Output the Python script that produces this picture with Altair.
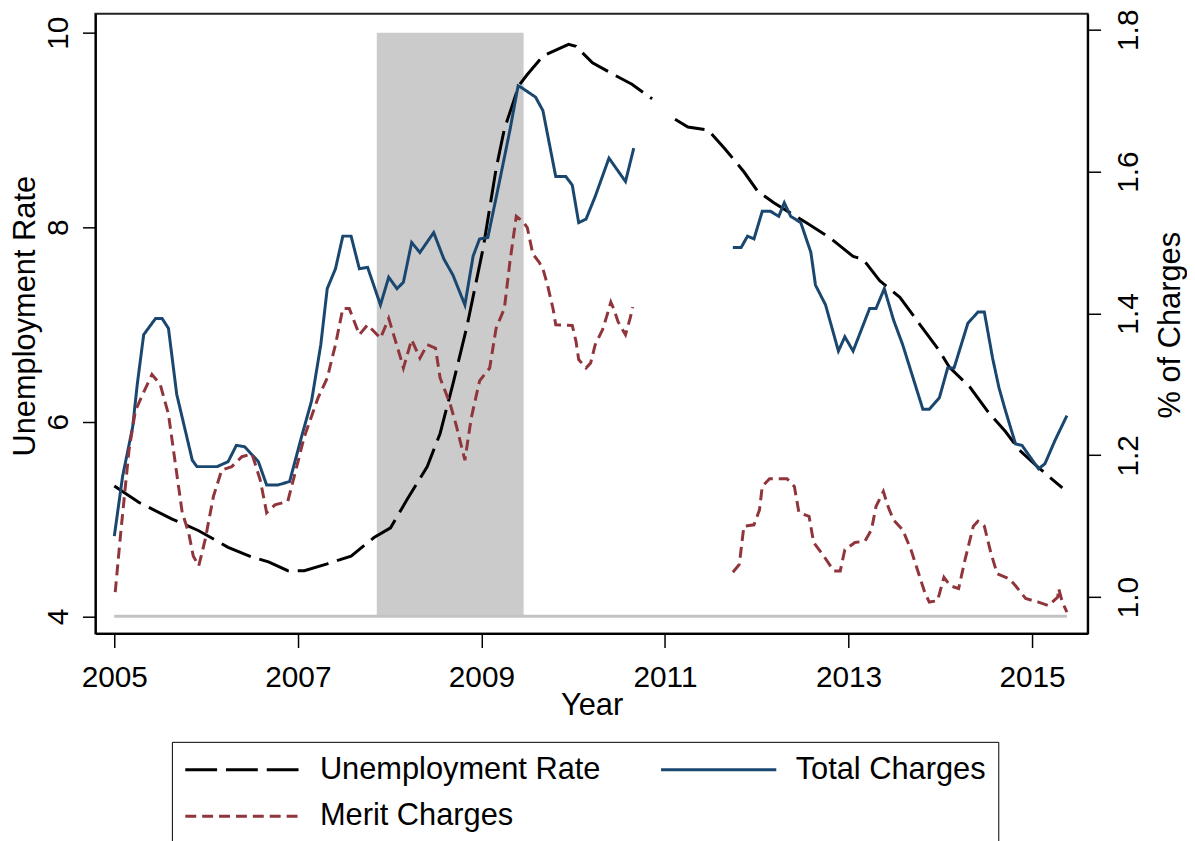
import altair as alt
import pandas as pd

FONT = "Liberation Sans"

# ---------------- data ----------------
ur_year = [2005.00, 2005.27, 2005.63, 2005.92, 2006.24, 2006.50, 2006.68, 2006.89, 2007.07, 2007.32,
           2007.58, 2007.83, 2008.01, 2008.19, 2008.41, 2008.55, 2008.69, 2008.84, 2009.02, 2009.16,
           2009.25, 2009.41, 2009.50, 2009.67, 2009.95, 2010.03, 2010.21, 2010.46, 2010.64, 2010.86,
           2011.11, 2011.25, 2011.47, 2011.65, 2011.86, 2012.01, 2012.19, 2012.55, 2012.80, 2013.05,
           2013.16, 2013.34, 2013.56, 2013.77, 2013.99, 2014.10, 2014.32, 2014.53, 2014.71, 2014.86,
           2015.07, 2015.33]
ur_val = [5.34, 5.17, 5.00, 4.88, 4.71, 4.61, 4.56, 4.47, 4.47, 4.54,
          4.62, 4.81, 4.91, 5.20, 5.54, 5.88, 6.39, 6.97, 7.79, 8.60,
          9.01, 9.46, 9.57, 9.76, 9.88, 9.86, 9.69, 9.56, 9.47, 9.32,
          9.11, 9.03, 9.00, 8.81, 8.57, 8.37, 8.25, 8.04, 7.89, 7.70,
          7.67, 7.45, 7.28, 7.01, 6.73, 6.56, 6.36, 6.09, 5.90, 5.71,
          5.53, 5.32]

tc_year = [2005.00, 2005.09, 2005.20, 2005.25, 2005.32, 2005.45, 2005.52, 2005.59, 2005.68, 2005.85,
           2005.90, 2006.12, 2006.24, 2006.33, 2006.42, 2006.57, 2006.66, 2006.78, 2006.91, 2007.04,
           2007.15, 2007.25, 2007.32, 2007.41, 2007.49, 2007.58, 2007.67, 2007.76, 2007.90, 2007.99,
           2008.08, 2008.15, 2008.24, 2008.33, 2008.48, 2008.59, 2008.69, 2008.82, 2008.91, 2008.98,
           2009.07, 2009.20, 2009.31, 2009.40, 2009.43, 2009.59, 2009.67, 2009.81, 2009.92, 2009.99,
           2010.06, 2010.14, 2010.24, 2010.39, 2010.57, 2010.66,
           2011.74, 2011.83, 2011.90, 2011.97, 2012.06, 2012.15, 2012.24, 2012.30, 2012.37, 2012.48,
           2012.59, 2012.64, 2012.75, 2012.89, 2012.96, 2013.05, 2013.23, 2013.30, 2013.39, 2013.49,
           2013.59, 2013.81, 2013.88, 2013.99, 2014.08, 2014.15, 2014.30, 2014.41, 2014.48, 2014.57,
           2014.64, 2014.71, 2014.82, 2014.89, 2015.07, 2015.14, 2015.25, 2015.38]
tc_val = [1.086, 1.170, 1.240, 1.300, 1.370, 1.393, 1.393, 1.379, 1.286, 1.193,
          1.184, 1.184, 1.191, 1.214, 1.212, 1.191, 1.158, 1.158, 1.163, 1.226,
          1.277, 1.356, 1.435, 1.463, 1.509, 1.509, 1.463, 1.465, 1.412, 1.451,
          1.435, 1.444, 1.500, 1.486, 1.514, 1.477, 1.454, 1.412, 1.481, 1.505,
          1.507, 1.588, 1.658, 1.721, 1.719, 1.705, 1.686, 1.593, 1.593, 1.581,
          1.528, 1.533, 1.565, 1.619, 1.586, 1.633,
          1.493, 1.493, 1.509, 1.505, 1.544, 1.544, 1.537, 1.556, 1.537, 1.528,
          1.486, 1.440, 1.412, 1.347, 1.367, 1.347, 1.407, 1.407, 1.435, 1.391,
          1.356, 1.265, 1.265, 1.281, 1.323, 1.323, 1.386, 1.402, 1.402, 1.337,
          1.295, 1.263, 1.216, 1.214, 1.181, 1.188, 1.221, 1.256]

mc_year = [2005.01, 2005.07, 2005.16, 2005.23, 2005.31, 2005.41, 2005.50, 2005.59, 2005.66, 2005.74,
           2005.81, 2005.86, 2005.92, 2005.99, 2006.08, 2006.17, 2006.28, 2006.39, 2006.50, 2006.59,
           2006.66, 2006.75, 2006.89, 2006.96, 2007.07, 2007.22, 2007.32, 2007.41, 2007.49, 2007.56,
           2007.67, 2007.76, 2007.90, 2007.99, 2008.12, 2008.15, 2008.24, 2008.33, 2008.41, 2008.50,
           2008.55, 2008.66, 2008.73, 2008.82, 2008.89, 2008.98, 2009.09, 2009.16, 2009.25, 2009.31,
           2009.38, 2009.45, 2009.50, 2009.56, 2009.63, 2009.67, 2009.72, 2009.78, 2009.81, 2009.99,
           2010.03, 2010.06, 2010.14, 2010.19, 2010.24, 2010.32, 2010.37, 2010.41, 2010.44, 2010.49,
           2010.57, 2010.62, 2010.65,
           2011.74, 2011.81, 2011.86, 2011.97, 2012.03, 2012.06, 2012.14, 2012.33, 2012.41, 2012.46,
           2012.57, 2012.62, 2012.73, 2012.84, 2012.91, 2012.96, 2013.07, 2013.18, 2013.25, 2013.30,
           2013.38, 2013.43, 2013.49, 2013.59, 2013.68, 2013.76, 2013.83, 2013.88, 2013.97, 2014.04,
           2014.11, 2014.20, 2014.27, 2014.36, 2014.41, 2014.48, 2014.55, 2014.62, 2014.75, 2014.82,
           2014.93, 2015.07, 2015.18, 2015.28, 2015.29, 2015.33, 2015.38]
mc_val = [1.007, 1.091, 1.207, 1.263, 1.286, 1.314, 1.300, 1.258, 1.193, 1.119,
          1.091, 1.058, 1.044, 1.081, 1.142, 1.179, 1.184, 1.198, 1.202, 1.165,
          1.119, 1.130, 1.135, 1.170, 1.226, 1.281, 1.309, 1.356, 1.407, 1.407,
          1.370, 1.384, 1.365, 1.393, 1.337, 1.323, 1.363, 1.337, 1.356, 1.351,
          1.309, 1.272, 1.240, 1.193, 1.253, 1.305, 1.323, 1.379, 1.407, 1.472,
          1.537, 1.530, 1.521, 1.484, 1.472, 1.463, 1.440, 1.407, 1.384, 1.383,
          1.361, 1.335, 1.323, 1.330, 1.356, 1.377, 1.398, 1.416, 1.407, 1.388,
          1.370, 1.393, 1.409,
          1.035, 1.046, 1.100, 1.102, 1.123, 1.156, 1.167, 1.167, 1.156, 1.119,
          1.114, 1.077, 1.058, 1.037, 1.037, 1.067, 1.077, 1.079, 1.095, 1.128,
          1.149, 1.128, 1.109, 1.095, 1.067, 1.035, 1.007, 0.993, 0.995, 1.028,
          1.016, 1.012, 1.053, 1.100, 1.107, 1.100, 1.063, 1.033, 1.026, 1.016,
          0.998, 0.993, 0.988, 1.000, 1.012, 0.993, 0.979]

recession = [2007.86, 2009.46]          # shaded recession period
x_ticks = [2005, 2007, 2009, 2011, 2013, 2015]
left_ticks = [4, 6, 8, 10]
right_ticks = [1.0, 1.2, 1.4, 1.6, 1.8]
# legend fills column by column: col 1 = Unemployment, Merit; col 2 = Total
series_names = ["Unemployment Rate", "Merit Charges", "Total Charges"]
series_colors = ["#000000", "#90353b", "#1a476f"]
series_dashes = [[32, 9], [11, 6], [1, 0]]
gap_year = 2011.0                       # charges series have no data around here


def frame(years, vals, name):
    return pd.DataFrame({
        "year": years, "value": vals, "series": name,
        "segment": [0 if y < gap_year else 1 for y in years],
    })


ur_df = frame(ur_year, ur_val, "Unemployment Rate")
ch_df = pd.concat([frame(tc_year, tc_val, "Total Charges"),
                   frame(mc_year, mc_val, "Merit Charges")], ignore_index=True)
rec_df = pd.DataFrame({"start": [recession[0]], "end": [recession[1]],
                       "lo": [left_ticks[0]], "hi": [left_ticks[-1]]})
base_df = pd.DataFrame({"start": [min(ur_year)], "end": [max(tc_year)], "y": [left_ticks[0]]})

# ---------------- scales & axes ----------------
x_scale = alt.Scale(domain=[2004.794, 2015.606], nice=False, zero=False)
yl_scale = alt.Scale(domain=[3.823, 10.194], nice=False, zero=False)
yr_scale = alt.Scale(domain=[0.9486, 1.8225], nice=False, zero=False)

x_axis = alt.Axis(values=x_ticks, format="d", title="Year", tickSize=14, labelPadding=15,
                  labelFontSize=30, titleFontSize=31, titleY=81, titleBaseline="alphabetic",
                  labelFlush=False)
left_axis = alt.Axis(values=left_ticks, title="Unemployment Rate", tickSize=13,
                     labelAngle=270, labelAlign="center", labelBaseline="alphabetic",
                     labelPadding=15, labelFontSize=30, titleFontSize=31,
                     titleAngle=270, titleAlign="center", titleBaseline="alphabetic",
                     titleX=-61, titleY=304)
right_axis = alt.Axis(values=right_ticks, orient="right", title="% of Charges", tickSize=13,
                      labelAngle=270, labelAlign="center", labelBaseline="top",
                      labelPadding=13, labelFontSize=30, titleFontSize=31,
                      titleAngle=270, titleAlign="center", titleBaseline="alphabetic",
                      titleX=92, titleY=313)

leg = alt.Legend(title=None, orient="none", legendX=77, legendY=733, columns=2,
                 symbolType="M-1,0H7", symbolSize=841, symbolStrokeWidth=3,
                 labelFont=FONT, labelFontSize=31, labelColor="black", labelOffset=105,
                 labelLimit=500, columnPadding=54, rowPadding=16, padding=12,
                 strokeColor="#000000", fillColor="white")

color_enc = alt.Color("series:N", scale=alt.Scale(domain=series_names, range=series_colors),
                      legend=leg)
dash_enc = alt.StrokeDash("series:N", scale=alt.Scale(domain=series_names, range=series_dashes),
                          legend=leg)

# ---------------- layers ----------------
rec = alt.Chart(rec_df).mark_rect(color="#cbcbcb").encode(
    x=alt.X("start:Q", scale=x_scale, axis=x_axis), x2="end:Q",
    y=alt.Y("lo:Q", scale=yl_scale, axis=left_axis), y2="hi:Q")

base = alt.Chart(base_df).mark_rule(color="#c2c2c2", strokeWidth=3).encode(
    x=alt.X("start:Q", scale=x_scale, axis=x_axis), x2="end:Q",
    y=alt.Y("y:Q", scale=yl_scale, axis=left_axis))

ur_line = alt.Chart(ur_df).mark_line(strokeWidth=3).encode(
    x=alt.X("year:Q", scale=x_scale, axis=x_axis),
    y=alt.Y("value:Q", scale=yl_scale, axis=left_axis),
    color=color_enc, strokeDash=dash_enc, detail="segment:N")

ch_lines = alt.Chart(ch_df).mark_line(strokeWidth=3).encode(
    x=alt.X("year:Q", scale=x_scale, axis=x_axis),
    y=alt.Y("value:Q", scale=yr_scale, axis=right_axis),
    color=color_enc, strokeDash=dash_enc, detail="segment:N")

left = alt.layer(rec, base, ur_line)
chart = alt.layer(left, ch_lines).resolve_scale(y="independent").properties(
    width=999, height=624,
    autosize=alt.AutoSizeParams(type="none"),
    padding={"left": 88, "top": 3, "right": 100, "bottom": 206},
    background="white",
).configure_view(stroke="#222222", strokeWidth=2).configure_axis(
    labelFont=FONT, titleFont=FONT, labelColor="black", titleColor="black",
    titleFontWeight="normal", grid=False, domainColor="black", domainWidth=2,
    tickColor="black", tickWidth=1.5)

chart.save("out.html", embed_options={"renderer": "svg", "actions": False})
